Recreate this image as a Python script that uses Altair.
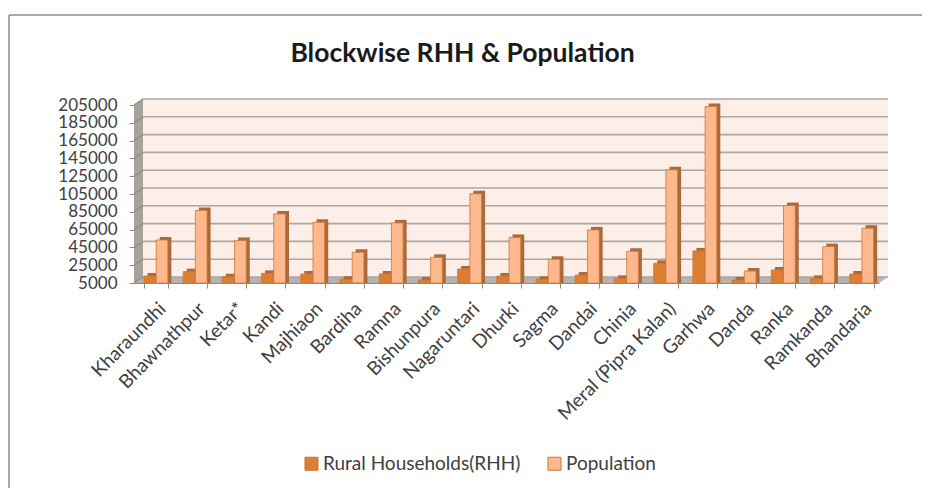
import altair as alt
import pandas as pd

categories = ["Kharaundhi","Bhawnathpur","Ketar*","Kandi","Majhiaon","Bardiha","Ramna","Bishunpura","Nagaruntari","Dhurki","Sagma","Dandai","Chinia","Meral (Pipra Kalan)","Garhwa","Danda","Ranka","Ramkanda","Bhandaria"]
rhh = [10600,15500,9900,13600,12900,6900,12900,6100,18500,10600,6900,11700,8000,24900,38800,6100,17400,8000,12900]
population = [51100,84200,50400,80400,71000,37300,70300,31600,103000,54000,29400,62400,38400,130000,201000,16200,89800,43600,64300]
ticks = [5000,25000,45000,65000,85000,105000,125000,145000,165000,185000,205000]
S1, S2 = "Rural Households(RHH)", "Population"

W, H, DX, DY = 745, 178, 9, 6
FONT = "Lato"
TXT = "#404040"

df = pd.DataFrame({"cat": categories*2,
                   "series": [S1]*len(categories)+[S2]*len(categories),
                   "value": rhh+population})
tdf = pd.DataFrame({"tick": ticks})
yscale = alt.Scale(domain=[5000,205000], nice=False, zero=False)

def xscale(align):
    return alt.Scale(domain=categories, paddingInner=0.39, paddingOuter=0.195, align=align)

def geo(rows, color):
    d = pd.DataFrame(rows, columns=["x","y","y2"])
    return alt.Chart(d).mark_area(color=color, opacity=1, clip=False).encode(
        x=alt.X("x:Q", scale=None, axis=None),
        y=alt.Y("y:Q", scale=None, axis=None),
        y2="y2:Q")

wall = geo([(DX,-DY,H-DY),(W+DX,-DY,H-DY)], "#fdefe7")
leftwall = geo([(0,0,H),(DX,-DY,H-DY)], "#a8a29d")
floor = geo([(0,H,H),(DX,H-DY,H),(W,H-DY,H),(W+DX,H-DY,H-DY)], "#b8b1ac")
geometry = alt.layer(wall, leftwall, floor)

grid = alt.Chart(tdf).mark_rule(color="#a8a8a8", strokeWidth=1.6, yOffset=-DY).encode(
    x=alt.value(DX), x2=alt.value(W+DX),
    y=alt.Y("tick:Q", scale=yscale, axis=None))

slant = alt.Chart(tdf).transform_calculate(back=f"datum.tick+{DY}*200000/{H}").mark_rule(color="#8f8a86", strokeWidth=1.2).encode(
    x=alt.value(0), x2=alt.value(DX),
    y=alt.Y("tick:Q", scale=yscale, axis=None),
    y2="back:Q")

base = alt.Chart(df)
enc = dict(
    xOffset=alt.XOffset("series:N", sort=[S1,S2], scale=alt.Scale(paddingInner=0.04)),
    y2=alt.datum(5000),
)
x_axis = alt.Axis(labelAngle=-45, labelFont=FONT, labelFontSize=19, labelColor=TXT,
                  tickBand="extent", tickColor="#8c8c8c", domainColor="#8c8c8c",
                  tickSize=5, labelPadding=11, labelLimit=250, grid=False)
y_axis = alt.Axis(values=ticks, format="d", labelFont=FONT, labelFontSize=17, labelColor=TXT,
                  tickColor="#8c8c8c", domainColor="#8c8c8c", tickSize=5, labelPadding=12,
                  labelOverlap=False, grid=False)

side = base.mark_bar(color="#ab6a3b", yOffset=-5, clip=False).encode(
    x=alt.X("cat:N", scale=xscale(0.88), sort=categories, axis=None),
    y=alt.Y("value:Q", scale=yscale, axis=None), **enc)
front = base.mark_bar(yOffset=-2, stroke="#c9773a", strokeWidth=0.8, clip=False).encode(
    x=alt.X("cat:N", scale=xscale(0.65), sort=categories, title=None, axis=x_axis),
    y=alt.Y("value:Q", scale=yscale, title=None, axis=y_axis), **enc,
    color=alt.Color("series:N", sort=[S1,S2],
                    scale=alt.Scale(domain=[S1,S2], range=["#dc7f33","#ffb88c"]),
                    legend=alt.Legend(title=None, orient="none", legendX=168, legendY=H+171,
                                      direction="horizontal", symbolType="square", symbolSize=170,
                                      labelFont=FONT, labelFontSize=19, labelColor=TXT, labelOffset=2,
                                      labelLimit=300, columnPadding=24, symbolStrokeWidth=1)))

frame_l = alt.Chart(tdf.head(1)).mark_rule(color="#8c8c8c", strokeWidth=1.5, clip=False).encode(
    x=alt.value(-125), y=alt.value(-90), y2=alt.value(H+205))
frame_t = alt.Chart(tdf.head(1)).mark_rule(color="#8c8c8c", strokeWidth=1.5, clip=False).encode(
    x=alt.value(-125), x2=alt.value(W+43), y=alt.value(-90))

chart = alt.layer(geometry, frame_l, frame_t, grid, slant, side, front).resolve_scale(
    x="independent", y="independent").properties(
    width=W, height=H,
    autosize=alt.AutoSizeParams(type="none"),
    padding={"left":126,"top":97,"right":43,"bottom":205},
    title=alt.TitleParams("Blockwise RHH & Population", font=FONT, fontSize=26.5, fontWeight="bold",
                          color="#1a1a1a", anchor="middle", dx=-44, offset=-53),
).configure_view(stroke=None)

chart.save("out.html", embed_options={"renderer":"svg","actions":False})
